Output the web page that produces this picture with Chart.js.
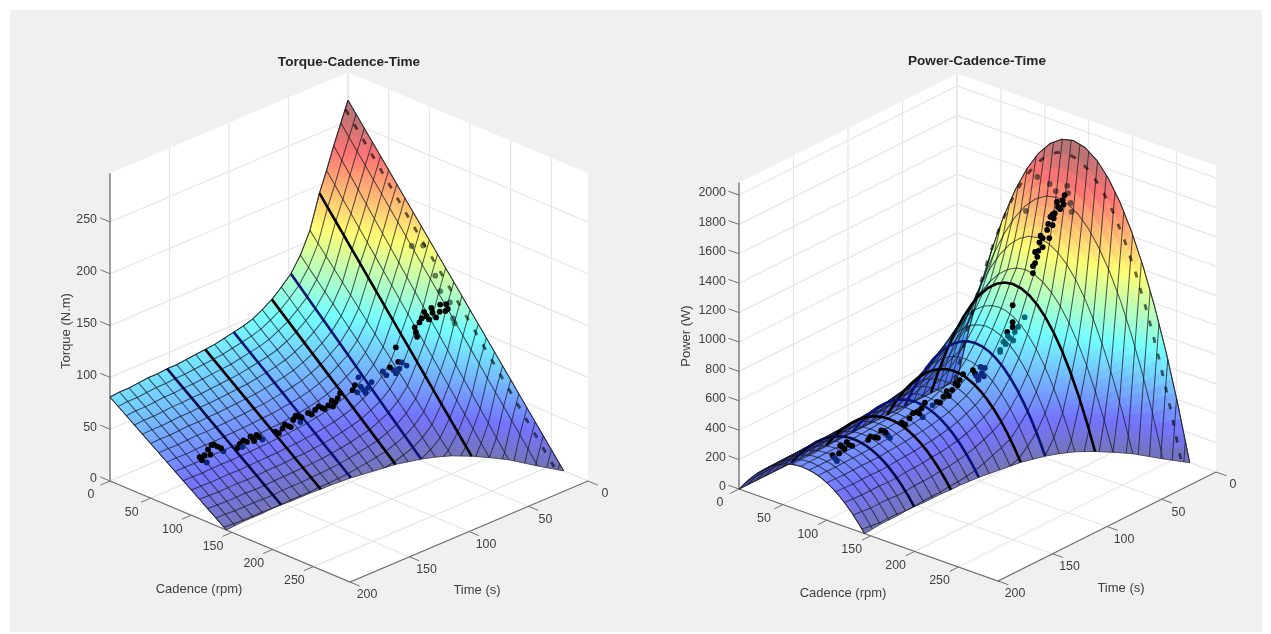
<!DOCTYPE html>
<html>
<head>
<meta charset="utf-8">
<title>Torque and Power vs Cadence and Time</title>
<script src="https://cdn.jsdelivr.net/npm/chart.js@4/dist/chart.umd.min.js"></script>
<style>
html, body { margin: 0; background: #fff; overflow: hidden; width: 1271px; height: 634px; }
#back { position: absolute; left: 10px; top: 10px; width: 1252px; height: 622px; background: #f0f0f0; }
canvas { position: absolute; filter: blur(0.5px); }
</style>
</head>
<body>
<div id="back"></div>
<canvas id="torqueChart" width="598" height="584" style="left:50px;top:50px"></canvas>
<canvas id="powerChart" width="591" height="585" style="left:680px;top:49px"></canvas>
<script>
// axis ticks
var cadenceTicks = [0, 50, 100, 150, 200, 250];
var timeTicks = [0, 50, 100, 150, 200];
var torqueTicks = [0, 50, 100, 150, 200, 250];
var powerTicks = [0, 200, 400, 600, 800, 1000, 1200, 1400, 1600, 1800, 2000];

// surface rows, one per time stamp
var rowTimes = [0, 6, 12, 18, 24, 32, 40, 48, 56, 64, 72, 80, 88, 96, 104, 112, 120, 128, 136, 144, 152, 160, 168, 176, 184, 192, 200];
var rowPeakTorque = [270, 251, 232, 211, 192, 160, 140, 126, 117, 109, 103, 98, 95, 93, 91, 89, 88, 87, 86, 85, 85, 84, 84, 83, 82, 82, 81];
var rowMaxCadence = [265, 242, 215, 200, 187, 174, 166, 160, 156, 152, 150, 148, 146, 144, 143, 142, 142, 141, 141, 141, 140, 140, 141, 141, 141, 142, 143];
var rowPeakPower = [1910, 1520, 1240, 1030, 940, 800, 690, 600, 520, 460, 420, 395, 372, 360, 348, 338, 332, 326, 320, 316, 312, 310, 308, 306, 304, 304, 303];

// share of max cadence, and how much of the row peak each share gets
var cadenceShare = [0, .05, .1, .15, .2, .25, .3, .35, .4, .45, .5, .55, .6, .65, .7, .75, .8, .85, .9, .95, 1];
var torqueShare = [1, .95, .9, .85, .8, .75, .7, .65, .6, .55, .5, .45, .4, .35, .3, .25, .2, .15, .1, .05, 0];
var powerShare = [0, .19, .36, .51, .64, .75, .84, .91, .96, .99, 1, .99, .96, .91, .84, .75, .64, .51, .36, .19, 0];

// mesh lines that run along time, one per cadence
var meshCadences = [0, 10, 20, 30, 40, 50, 60, 70, 80, 90, 100, 110, 120, 130, 140, 150, 160, 170, 180, 190, 200, 210, 220, 230, 240, 250, 260];

// heavy rows and the dashed row next to the edge
var thickTimes = [152, 120, 96, 64, 48, 24];
var thickColors = ['#050a40', '#000000', '#0a1470', '#000000', '#0a1470', '#000000'];
var dashTime = 2, dashPeakTorque = 262, dashMaxCadence = 258, dashPeakPower = 1820;

// measured points: 0 on top, 1 seen through the surface, 2 faint, 3 teal
var torqueDotTime = [178, 174, 172, 171, 168, 163, 158, 151, 149, 143, 138, 135, 130, 126, 120, 115, 111, 107, 105, 102, 96, 90, 85, 79, 77, 68, 64, 59, 55, 63, 46, 37, 32, 40, 33, 26, 35, 24, 26, 20, 16, 11, 5, 5, 7, 8, 8, 6, 6, 6, 4, 4, 176, 169, 166, 160, 147, 146, 140, 133, 137, 123, 118, 113, 109, 104, 99, 93, 88, 82, 81, 75, 66, 61, 57, 52, 43, 35, 30, 25, 22, 18, 14, 12, 8, 8, 3];
var torqueDotCadence = [78, 78, 78, 78, 78, 78, 78, 85, 85, 85, 85, 85, 85, 95, 95, 95, 95, 95, 95, 100, 100, 100, 100, 100, 100, 105, 105, 105, 105, 105, 110, 110, 110, 110, 110, 110, 110, 120, 120, 120, 120, 120, 120, 130, 130, 90, 104, 116, 122, 134, 135, 137, 78, 78, 78, 78, 85, 85, 85, 85, 85, 95, 95, 95, 95, 95, 100, 100, 100, 100, 100, 100, 105, 105, 105, 105, 110, 110, 110, 120, 120, 120, 120, 120, 120, 125, 125];
var torqueDotValue = [38, 38, 30, 42, 45, 41, 34, 36, 39, 38, 39, 41, 34, 43, 43, 43, 47, 48, 42, 51, 51, 50, 50, 50, 53, 58, 54, 54, 54, 68, 67, 64, 63, 68, 70, 63, 85, 93, 103, 109, 109, 110, 108, 114, 113, 163, 168, 142, 129, 122, 106, 102, 34, 36, 44, 38, 35, 41, 42, 38, 36, 40, 46, 41, 50, 46, 48, 53, 48, 53, 47, 57, 62, 58, 50, 58, 62, 60, 68, 98, 106, 114, 105, 115, 104, 118, 116];
var torqueDotLayer = [0, 0, 1, 0, 0, 0, 1, 0, 0, 0, 0, 0, 1, 0, 0, 0, 0, 0, 1, 0, 0, 0, 0, 0, 0, 0, 1, 1, 1, 1, 1, 1, 1, 0, 0, 1, 0, 0, 0, 0, 0, 0, 0, 0, 0, 2, 2, 2, 2, 2, 2, 2, 0, 0, 0, 0, 1, 0, 0, 0, 0, 0, 0, 0, 0, 0, 0, 0, 0, 0, 0, 0, 0, 1, 1, 1, 1, 1, 1, 0, 0, 0, 0, 0, 0, 0, 0];

var powerDotTime = [177, 175, 168, 164, 159, 173, 150, 144, 136, 132, 130, 127, 120, 113, 109, 108, 99, 93, 85, 80, 78, 103, 70, 65, 59, 62, 65, 46, 49, 40, 49, 44, 33, 44, 44, 49, 39, 42, 27, 25, 23, 25, 18, 21, 18, 18, 13, 15, 11, 8, 4, 2, 2, 2, 2, 2, 2, 2, 2, 2, 171, 170, 162, 166, 148, 141, 138, 134, 124, 117, 111, 106, 96, 90, 88, 82, 75, 68, 63, 60, 67, 44, 42, 37, 27, 22, 20, 16, 12, 17, 6, 9, 13, 3];
var powerDotCadence = [78, 78, 78, 78, 78, 78, 85, 85, 85, 85, 85, 95, 95, 95, 95, 95, 100, 100, 100, 100, 100, 100, 105, 105, 105, 105, 105, 110, 110, 110, 110, 118, 118, 118, 118, 118, 118, 118, 120, 120, 120, 120, 120, 120, 120, 125, 125, 125, 125, 125, 125, 125, 94, 108, 115, 128, 129, 132, 133, 81, 78, 78, 78, 78, 85, 85, 85, 85, 95, 95, 95, 95, 100, 100, 100, 100, 100, 105, 105, 105, 105, 110, 110, 110, 120, 120, 120, 125, 125, 125, 125, 125, 125, 125];
var powerDotValue = [310, 283, 333, 351, 307, 256, 329, 325, 339, 295, 267, 380, 386, 403, 414, 349, 430, 443, 460, 473, 501, 422, 550, 486, 524, 499, 465, 664, 620, 667, 606, 922, 800, 807, 773, 759, 756, 733, 1082, 1143, 1178, 1218, 1226, 1269, 1287, 1353, 1367, 1431, 1441, 1472, 1503, 1531, 1588, 1570, 1537, 1599, 1553, 1492, 1433, 1329, 300, 350, 325, 312, 345, 310, 350, 320, 360, 410, 385, 440, 415, 470, 430, 490, 530, 520, 545, 470, 500, 640, 690, 640, 1130, 1215, 1310, 1290, 1410, 1390, 1450, 1510, 1440, 1470];
var powerDotLayer = [0, 1, 0, 0, 0, 1, 0, 0, 0, 1, 1, 0, 0, 0, 0, 1, 0, 0, 0, 0, 0, 1, 0, 1, 1, 1, 1, 3, 3, 3, 3, 0, 3, 0, 0, 0, 3, 3, 0, 0, 0, 0, 0, 0, 0, 0, 0, 0, 0, 0, 0, 0, 2, 2, 2, 2, 2, 2, 2, 2, 0, 0, 0, 0, 0, 0, 0, 0, 0, 0, 0, 0, 0, 0, 0, 0, 0, 0, 1, 1, 1, 3, 3, 3, 0, 0, 0, 0, 0, 0, 0, 0, 0, 0];

var jetStops = [[0, 0, 0, 128], [.11, 0, 0, 255], [.375, 0, 255, 255], [.625, 255, 255, 0], [.875, 255, 0, 0], [1, 128, 0, 0]];
var dotColors = ['#000000', '#0b2a80', 'rgba(0,20,20,.55)', 'rgba(0,90,110,.9)'];
var surfaceAlpha = 0.55;
var fontName = '"Liberation Sans", Arial, sans-serif';

var torqueView = {
    x0: 110, y0: 481, cx: .8136, cy: .3424, tx: 1.19, ty: .505, vz: 1.036,
    top: 297, maxValue: 260, ticks: torqueTicks, title: 'Torque-Cadence-Time',
    xMin: 50, xMax: 648, yMin: 70, yMax: 634, padLeft: 0,
    valueName: 'Torque (N.m)', valueAt: [66, 331], cadenceAt: [199, 589], timeAt: [477, 590]
};
var powerView = {
    x0: 739, y0: 489, cx: .878, cy: .312, tx: 1.09, ty: .545, vz: .147,
    top: 2085, maxValue: 1850, ticks: powerTicks, title: 'Power-Cadence-Time',
    xMin: 683, xMax: 1271, yMin: 69, yMax: 634, padLeft: 3,
    valueName: 'Power (W)', valueAt: [686, 336], cadenceAt: [843, 593], timeAt: [1121, 588]
};

function project(view, cadence, time, value) {
    return {
        x: view.x0 + view.cx * cadence + view.tx * (200 - time),
        y: view.y0 + view.cy * cadence - view.ty * (200 - time) - view.vz * value
    };
}

function jet(f) {
    f = Math.max(0, Math.min(1, f));
    for (var i = 1; i < jetStops.length; i++) {
        if (f <= jetStops[i][0]) {
            var a = jetStops[i - 1], b = jetStops[i], k = (f - a[0]) / (b[0] - a[0]);
            var c = [1, 2, 3].map(function (n) {
                var v = a[n] + (b[n] - a[n]) * k;
                return Math.round(v * surfaceAlpha + 255 * (1 - surfaceAlpha));
            });
            return 'rgb(' + c.join(',') + ')';
        }
    }
    return '#fff';
}

function lineSet(points, color, width, extra) {
    return Object.assign({
        data: points, showLine: true, borderColor: color, borderWidth: width,
        pointRadius: 0, tension: 0, clip: false
    }, extra || {});
}

// nodes of one row turned into chart points
function rowNodes(view, time, peak, maxCadence, shares) {
    return cadenceShare.map(function (s, j) {
        var v = peak * shares[j];
        var p = project(view, s * maxCadence, time, v);
        p.v = v;
        return p;
    });
}

function buildGrid(view, peaks, shares) {
    return rowTimes.map(function (t, i) {
        return rowNodes(view, t, peaks[i], rowMaxCadence[i], shares);
    });
}

// one mesh line at fixed cadence, stops where the surface reaches zero
function cadenceLine(view, cadence, peaks, shares) {
    var pts = [];
    var last = shares.length - 1;
    for (var i = 0; i < rowTimes.length; i++) {
        if (cadence <= rowMaxCadence[i]) {
            var pos = cadence / rowMaxCadence[i] * last;
            var j = Math.min(Math.floor(pos), last - 1);
            var share = shares[j] + (shares[j + 1] - shares[j]) * (pos - j);
            pts.push(project(view, cadence, rowTimes[i], peaks[i] * share));
        } else {
            if (i > 0) {
                var k = (rowMaxCadence[i - 1] - cadence) / (rowMaxCadence[i - 1] - rowMaxCadence[i]);
                pts.push(project(view, cadence, rowTimes[i - 1] + (rowTimes[i] - rowTimes[i - 1]) * k, 0));
            }
            break;
        }
    }
    return pts;
}

function buildBox(view) {
    var sets = [];
    var grid = '#e6e6e6', axis = '#707070';
    var p = function (c, t, v) { return project(view, c, t, v); };
    var cMax = 295;
    view.ticks.forEach(function (v) {
        sets.push(lineSet([p(0, 200, v), p(0, 0, v), p(cMax, 0, v)], grid, 1.2));
    });
    cadenceTicks.forEach(function (c) {
        sets.push(lineSet([p(c, 200, 0), p(c, 0, 0), p(c, 0, view.top)], grid, 1.2));
    });
    timeTicks.forEach(function (t) {
        sets.push(lineSet([p(cMax, t, 0), p(0, t, 0), p(0, t, view.top)], grid, 1.2));
    });
    // axis lines and their tick marks go on top of the grid
    var marks = [
        lineSet([p(0, 200, 0), p(0, 200, view.top)], axis, 1.3),
        lineSet([p(0, 200, 0), p(cMax, 200, 0), p(cMax, 0, 0)], axis, 1.3)
    ];
    view.ticks.forEach(function (v) {
        marks.push(lineSet([p(0, 200, v), p(-12, 200, v)], axis, 1));
    });
    cadenceTicks.forEach(function (c) {
        marks.push(lineSet([p(c, 200, 0), p(c, 208, 0)], axis, 1));
    });
    timeTicks.forEach(function (t) {
        marks.push(lineSet([p(cMax, t, 0), p(cMax + 12, t, 0)], axis, 1));
    });
    return marks.concat(sets);
}

function buildDatasets(view, nodes, dash, dots, peaks, shares) {
    var sets = [];
    sets.push({
        data: dots.time.map(function (t, i) { return project(view, dots.cadence[i], t, dots.value[i]); }),
        pointRadius: 2.9, pointBorderWidth: 0, clip: false,
        pointBackgroundColor: dots.layer.map(function (l) { return dotColors[l]; })
    });
    thickTimes.forEach(function (t, n) {
        sets.push(lineSet(nodes[rowTimes.indexOf(t)], thickColors[n], 2.6));
    });
    sets.push(lineSet(dash, 'rgba(0,0,0,.6)', 2.8, { borderDash: [6, 11] }));
    nodes.forEach(function (row) {
        sets.push(lineSet(row, 'rgba(25,25,35,.72)', 1.05));
    });
    meshCadences.forEach(function (c) {
        sets.push(lineSet(cadenceLine(view, c, peaks, shares), 'rgba(25,25,35,.72)', 1.05));
    });
    // outline of the surface, the colours get painted right before it
    var last = cadenceShare.length - 1;
    var outline = nodes[0].slice()
        .concat(nodes.map(function (row) { return row[last]; }))
        .concat(nodes[nodes.length - 1].slice().reverse())
        .concat(nodes.map(function (row) { return row[0]; }).reverse());
    sets.push(lineSet(outline, 'rgba(70,70,70,.8)', 1, { surfaceOutline: true }));
    return sets.concat(buildBox(view));
}

// walls, coloured cells and text use the chart's own scales
var surfacePlugin = {
    id: 'surface3d',
    beforeDatasetsDraw: function (chart, args, opts) {
        var view = opts.view, ctx = chart.ctx;
        var c = [[0, 200, 0], [0, 200, view.top], [0, 0, view.top], [295, 0, view.top], [295, 0, 0], [295, 200, 0]];
        ctx.save();
        ctx.fillStyle = '#fff';
        ctx.beginPath();
        c.forEach(function (q, i) {
            var p = project(view, q[0], q[1], q[2]);
            var x = chart.scales.x.getPixelForValue(p.x), y = chart.scales.y.getPixelForValue(p.y);
            if (i) ctx.lineTo(x, y); else ctx.moveTo(x, y);
        });
        ctx.closePath();
        ctx.fill();
        ctx.restore();
    },
    beforeDatasetDraw: function (chart, args, opts) {
        if (!chart.data.datasets[args.index].surfaceOutline) return;
        paintCells(chart, opts.view, opts.nodes);
    },
    afterDatasetsDraw: function (chart, args, opts) {
        drawLabels(chart, opts.view);
    }
};

function paintCells(chart, view, nodes) {
    var ctx = chart.ctx, sx = chart.scales.x, sy = chart.scales.y;
    var sub = 4;
    function corner(a, b, c, d, u, w) {
        var mix = function (k) {
            return (a[k] * (1 - u) + b[k] * u) * (1 - w) + (c[k] * (1 - u) + d[k] * u) * w;
        };
        return { x: sx.getPixelForValue(mix('x')), y: sy.getPixelForValue(mix('y')), v: mix('v') };
    }
    function quad(p, q, r, s) {
        ctx.beginPath();
        ctx.moveTo(p.x, p.y);
        ctx.lineTo(q.x, q.y);
        ctx.lineTo(r.x, r.y);
        ctx.lineTo(s.x, s.y);
        ctx.closePath();
    }
    ctx.save();
    ctx.lineWidth = 0.7;
    // far rows first
    for (var i = 0; i < nodes.length - 1; i++) {
        for (var j = 0; j < nodes[i].length - 1; j++) {
            var a = nodes[i][j], b = nodes[i][j + 1], c = nodes[i + 1][j], d = nodes[i + 1][j + 1];
            for (var m = 0; m < sub; m++) {
                for (var n = 0; n < sub; n++) {
                    var p = corner(a, b, c, d, n / sub, m / sub), q = corner(a, b, c, d, (n + 1) / sub, m / sub);
                    var r = corner(a, b, c, d, (n + 1) / sub, (m + 1) / sub), s = corner(a, b, c, d, n / sub, (m + 1) / sub);
                    var col = jet((p.v + q.v + r.v + s.v) / 4 / view.maxValue);
                    quad(p, q, r, s);
                    ctx.fillStyle = col;
                    ctx.strokeStyle = col;
                    ctx.fill();
                    ctx.stroke();
                }
            }
        }
    }
    // cells turned away from the viewer show through and darken what is in front
    ctx.globalCompositeOperation = 'multiply';
    ctx.globalAlpha = 0.6;
    for (i = 0; i < nodes.length - 1; i++) {
        for (j = 0; j < nodes[i].length - 1; j++) {
            a = nodes[i][j]; b = nodes[i][j + 1]; c = nodes[i + 1][j]; d = nodes[i + 1][j + 1];
            var cross = (c.x - a.x) * (b.y - a.y) - (c.y - a.y) * (b.x - a.x);
            if (cross > 0) {
                p = corner(a, b, c, d, 0, 0); q = corner(a, b, c, d, 1, 0);
                r = corner(a, b, c, d, 1, 1); s = corner(a, b, c, d, 0, 1);
                quad(p, q, r, s);
                ctx.fillStyle = jet((p.v + q.v + r.v + s.v) / 4 / view.maxValue);
                ctx.fill();
            }
        }
    }
    ctx.restore();
}

function drawLabels(chart, view) {
    var ctx = chart.ctx, sx = chart.scales.x, sy = chart.scales.y;
    function text(str, x, y, align) {
        ctx.textAlign = align || 'center';
        ctx.fillText(str, sx.getPixelForValue(x), sy.getPixelForValue(y));
    }
    ctx.save();
    ctx.fillStyle = '#404040';
    ctx.textBaseline = 'middle';
    ctx.font = '12.4px ' + fontName;
    view.ticks.forEach(function (v) {
        var p = project(view, 0, 200, v);
        text(String(v), p.x - 13, p.y - 2, 'right');
    });
    cadenceTicks.forEach(function (c) {
        var p = project(view, c, 200, 0);
        text(String(c), p.x - 19, p.y + 14);
    });
    timeTicks.forEach(function (t) {
        var p = project(view, 295, t, 0);
        text(String(t), p.x + 17, p.y + 13);
    });
    ctx.font = '13px ' + fontName;
    text('Cadence (rpm)', view.cadenceAt[0], view.cadenceAt[1]);
    text('Time (s)', view.timeAt[0], view.timeAt[1]);
    ctx.translate(sx.getPixelForValue(view.valueAt[0]), sy.getPixelForValue(view.valueAt[1]));
    ctx.rotate(-Math.PI / 2);
    ctx.textAlign = 'center';
    ctx.fillText(view.valueName, 0, 0);
    ctx.restore();
}

function makeChart(id, view, peaks, shares, dashPeak, dots) {
    var nodes = buildGrid(view, peaks, shares);
    var dash = rowNodes(view, dashTime, dashPeak, dashMaxCadence, shares);
    return new Chart(document.getElementById(id), {
        type: 'scatter',
        data: { datasets: buildDatasets(view, nodes, dash, dots, peaks, shares) },
        plugins: [surfacePlugin],
        options: {
            responsive: false,
            animation: false,
            events: [],
            layout: { autoPadding: false, padding: { left: view.padLeft, right: 0, top: 0, bottom: 0 } },
            scales: {
                x: { type: 'linear', display: false, min: view.xMin, max: view.xMax },
                y: { type: 'linear', display: false, min: view.yMin, max: view.yMax, reverse: true }
            },
            plugins: {
                legend: { display: false },
                tooltip: { enabled: false },
                title: {
                    display: true, text: view.title, color: '#262626',
                    padding: { top: 4, bottom: 0 },
                    font: { family: fontName, size: 13.6, weight: 'bold', lineHeight: '16px' }
                },
                surface3d: { view: view, nodes: nodes }
            }
        }
    });
}

makeChart('torqueChart', torqueView, rowPeakTorque, torqueShare, dashPeakTorque,
    { time: torqueDotTime, cadence: torqueDotCadence, value: torqueDotValue, layer: torqueDotLayer });
makeChart('powerChart', powerView, rowPeakPower, powerShare, dashPeakPower,
    { time: powerDotTime, cadence: powerDotCadence, value: powerDotValue, layer: powerDotLayer });
</script>
</body>
</html>
